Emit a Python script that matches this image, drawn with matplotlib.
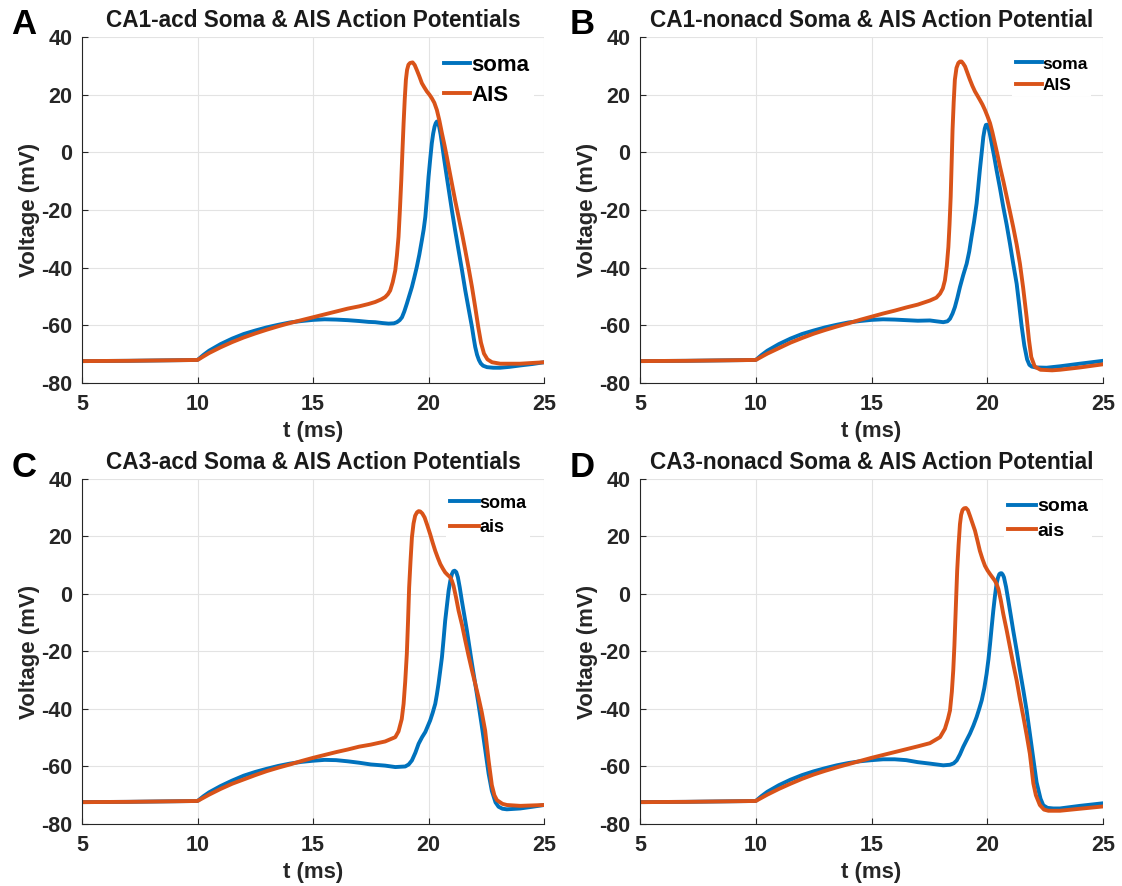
import matplotlib.pyplot as plt

plt.rcParams['font.family'] = ['Liberation Sans', 'DejaVu Sans']
plt.rcParams['font.weight'] = 'bold'
plt.rcParams['axes.unicode_minus'] = False

# panel titles, legend names
titles = ['CA1-acd Soma & AIS Action Potentials',
          'CA1-nonacd Soma & AIS Action Potential',
          'CA3-acd Soma & AIS Action Potentials',
          'CA3-nonacd Soma & AIS Action Potential']
letters = ['A', 'B', 'C', 'D']
names_soma = ['soma', 'soma', 'soma', 'soma']
names_ais = ['AIS', 'AIS', 'ais', 'ais']

# ---- A: CA1-acd ----
tA_soma = [5, 7, 9, 10, 10.25, 10.5, 11, 11.5, 12, 12.5, 13, 13.5, 14, 14.5, 15, 15.5, 16, 16.5,
           17, 17.4, 17.69, 18.0, 18.27, 18.5, 18.63, 18.75, 18.85, 18.95, 19.06, 19.17, 19.28,
           19.38, 19.49, 19.6, 19.71, 19.79, 19.86, 19.93, 20.0, 20.07, 20.14, 20.2, 20.26, 20.31,
           20.36, 20.41, 20.46, 20.52, 20.58, 20.68, 20.79, 20.9, 21.01, 21.15, 21.3, 21.45, 21.59,
           21.74, 21.88, 21.95, 22.02, 22.1, 22.18, 22.26, 22.36, 22.53, 22.8, 23.1, 23.5, 23.97,
           24.5, 25]
vA_soma = [-72.4, -72.3, -72.1, -72.0, -70.3, -68.8, -66.5, -64.6, -63.0, -61.8, -60.7, -59.8, -59.0,
           -58.5, -58.1, -57.9, -58.0, -58.2, -58.5, -58.8, -58.9, -59.2, -59.4, -59.3, -58.9, -58.2,
           -57.2, -55.2, -52.5, -49.6, -46.7, -43.5, -39.8, -35.5, -30.5, -26.7, -22.4, -15.8, -8.5,
           -2.5, 3.1, 6.5, 8.9, 10.1, 10.7, 10.2, 8.9, 6.3, 3.1, -2.6, -8.5, -14.3, -20.1, -27.0,
           -34.0, -41.0, -47.9, -54.5, -60.6, -64.2, -67.5, -70.2, -72.0, -73.2, -74.0, -74.5, -74.7,
           -74.7, -74.4, -73.9, -73.4, -72.8]
tA_ais = [5, 7, 9, 10, 10.25, 10.5, 11, 11.5, 12, 12.5, 13, 13.5, 14, 14.5, 15, 15.5, 16, 16.5, 17,
          17.4, 17.69, 17.95, 18.12, 18.24, 18.34, 18.45, 18.56, 18.63, 18.7, 18.76, 18.82, 18.87,
          18.92, 18.97, 19.02, 19.07, 19.13, 19.2, 19.31, 19.4, 19.49, 19.6, 19.71, 19.82, 19.93,
          20.04, 20.14, 20.25, 20.36, 20.47, 20.58, 20.69, 20.79, 20.9, 21.01, 21.15, 21.3, 21.45,
          21.59, 21.74, 21.88, 22.02, 22.15, 22.27, 22.4, 22.55, 22.75, 23.1, 23.97, 25]
vA_ais = [-72.4, -72.3, -72.1, -72.0, -70.8, -69.6, -67.6, -65.8, -64.2, -62.8, -61.5, -60.3, -59.2,
          -58.2, -57.2, -56.2, -55.2, -54.2, -53.4, -52.6, -51.9, -51.0, -50.2, -49.2, -47.9, -45.0,
          -40.9, -35.8, -29.3, -20.0, -9.6, 0.5, 10.1, 18.5, 25.2, 28.6, 30.4, 31.0, 31.2, 30.3,
          28.6, 26.4, 24.0, 22.5, 21.1, 20.0, 18.8, 17.2, 14.7, 11.0, 6.6, 2.5, -1.5, -6.2, -10.8,
          -16.6, -22.4, -28.2, -34.0, -40.4, -46.7, -53.7, -60.5, -66.0, -69.8, -71.8, -72.8, -73.3,
          -73.3, -72.8]

# ---- B: CA1-nonacd ----
tB_soma = [5, 7, 9, 10, 10.25, 10.5, 11, 11.5, 12, 12.5, 13, 13.5, 14, 14.5, 15, 15.5, 16, 16.5,
           17, 17.52, 17.8, 18.1, 18.28, 18.39, 18.5, 18.6, 18.71, 18.82, 18.96, 19.11, 19.22,
           19.32, 19.43, 19.54, 19.61, 19.68, 19.76, 19.83, 19.89, 19.94, 19.99, 20.04, 20.11,
           20.19, 20.3, 20.4, 20.55, 20.69, 20.84, 20.98, 21.12, 21.27, 21.38, 21.48, 21.6, 21.72,
           21.82, 21.92, 22.1, 22.56, 23.14, 24, 25]
vB_soma = [-72.4, -72.3, -72.1, -72.0, -70.3, -68.8, -66.5, -64.6, -63.0, -61.8, -60.7, -59.8, -59.0,
           -58.5, -58.1, -57.9, -58.0, -58.2, -58.4, -58.3, -58.6, -58.9, -58.6, -57.7, -55.9, -53.7,
           -50.4, -46.7, -42.6, -38.6, -34.4, -29.3, -24.0, -17.7, -12.0, -6.1, 0.0, 5.4, 8.2, 9.5,
           9.6, 8.9, 6.5, 3.1, -1.5, -6.1, -12.5, -18.9, -25.2, -31.7, -38.6, -45.6, -53.0, -60.0,
           -67.0, -71.8, -73.7, -74.3, -74.6, -74.7, -74.2, -73.3, -72.3]
tB_ais = [5, 7, 9, 10, 10.25, 10.5, 11, 11.5, 12, 12.5, 13, 13.5, 14, 14.5, 15, 15.5, 16, 16.5, 17,
          17.52, 17.8, 17.96, 18.08, 18.17, 18.25, 18.32, 18.37, 18.42, 18.46, 18.5, 18.55, 18.6,
          18.67, 18.75, 18.82, 18.89, 18.96, 19.04, 19.14, 19.25, 19.36, 19.47, 19.58, 19.68,
          19.79, 19.9, 20.01, 20.12, 20.22, 20.33, 20.44, 20.55, 20.7, 20.84, 20.98, 21.12, 21.27,
          21.41, 21.55, 21.7, 21.8, 21.9, 22.05, 22.3, 22.8, 23.14, 24, 25]
vB_ais = [-72.4, -72.3, -72.1, -72.0, -70.9, -69.8, -67.9, -66.0, -64.4, -62.9, -61.6, -60.4, -59.3,
          -58.1, -57.0, -55.9, -54.9, -53.8, -52.8, -51.4, -50.4, -49.0, -47.2, -44.4, -39.5, -32.8,
          -25.0, -15.4, -4.0, 7.8, 17.5, 25.2, 29.3, 31.0, 31.5, 31.5, 30.8, 29.8, 27.6, 25.2, 23.0,
          21.1, 19.6, 18.2, 16.6, 14.7, 12.5, 10.1, 7.0, 3.1, -0.8, -5.0, -10.2, -15.4, -20.6,
          -25.9, -32.0, -38.6, -47.0, -57.2, -65.0, -71.0, -74.3, -75.4, -75.6, -75.4, -74.6, -73.5]

# ---- C: CA3-acd ----
tC_soma = [5, 7, 9, 10, 10.25, 10.5, 11, 11.5, 12, 12.5, 13, 13.5, 14, 14.5, 15, 15.5, 16, 16.5,
           17, 17.5, 18.12, 18.56, 18.99, 19.14, 19.28, 19.43, 19.57, 19.72, 19.86, 20.07, 20.18,
           20.29, 20.36, 20.43, 20.5, 20.58, 20.65, 20.72, 20.8, 20.87, 20.94, 21.01, 21.07, 21.13,
           21.2, 21.27, 21.35, 21.44, 21.55, 21.66, 21.77, 21.88, 22.02, 22.16, 22.3, 22.45, 22.6,
           22.74, 22.9, 23.03, 23.2, 23.39, 23.97, 24.5, 25]
vC_soma = [-72.4, -72.3, -72.1, -72.0, -70.4, -69.0, -66.8, -64.9, -63.2, -61.9, -60.8, -59.8, -59.0,
           -58.4, -58.0, -57.7, -57.8, -58.2, -58.7, -59.3, -59.7, -60.2, -60.0, -59.3, -57.9, -55.2,
           -52.1, -49.8, -48.0, -44.0, -41.3, -38.2, -35.0, -31.3, -27.0, -22.0, -15.8, -9.3, -3.7,
           1.2, 4.5, 6.9, 7.9, 8.1, 7.6, 5.8, 2.3, -2.3, -7.5, -12.7, -18.5, -24.3, -31.2, -38.2,
           -45.6, -54.0, -62.5, -68.5, -72.5, -74.0, -74.7, -74.9, -74.6, -74.0, -73.4]
tC_ais = [5, 7, 9, 10, 10.25, 10.5, 11, 11.5, 12, 12.5, 13, 13.5, 14, 14.5, 15, 15.5, 16, 16.5, 17,
          17.5, 18.12, 18.56, 18.7, 18.84, 18.92, 18.99, 19.06, 19.11, 19.16, 19.22, 19.28, 19.35,
          19.42, 19.5, 19.57, 19.64, 19.73, 19.83, 19.95, 20.07, 20.18, 20.29, 20.4, 20.51, 20.62,
          20.72, 20.83, 20.94, 21.01, 21.08, 21.19, 21.3, 21.45, 21.59, 21.73, 21.88, 22.02, 22.16,
          22.3, 22.45, 22.6, 22.74, 22.85, 22.96, 23.2, 23.39, 23.97, 25]
vC_ais = [-72.4, -72.3, -72.1, -72.0, -70.9, -69.8, -67.8, -66.0, -64.5, -63.0, -61.6, -60.4, -59.3,
          -58.1, -57.0, -56.0, -55.0, -54.1, -53.1, -52.4, -51.3, -49.8, -47.8, -43.5, -38.2, -30.5,
          -20.8, -10.0, 2.3, 11.5, 19.7, 24.5, 27.2, 28.4, 28.8, 28.7, 28.0, 26.6, 23.8, 20.8, 17.8,
          15.0, 12.6, 10.4, 8.8, 7.5, 6.6, 5.8, 4.6, 2.9, -1.2, -5.8, -10.8, -16.2, -21.4, -26.6,
          -31.2, -35.9, -41.0, -47.5, -58.0, -66.5, -70.0, -71.7, -73.0, -73.4, -73.7, -73.4]

# ---- D: CA3-nonacd ----
tD_soma = [5, 7, 9, 10, 10.25, 10.5, 11, 11.5, 12, 12.5, 13, 13.5, 14, 14.5, 15, 15.5, 16, 16.5,
           17, 17.52, 18.1, 18.39, 18.55, 18.68, 18.82, 18.96, 19.11, 19.25, 19.4, 19.54, 19.65,
           19.76, 19.87, 19.97, 20.05, 20.12, 20.19, 20.26, 20.33, 20.4, 20.46, 20.52, 20.57,
           20.62, 20.67, 20.72, 20.81, 20.91, 21.01, 21.12, 21.27, 21.41, 21.56, 21.7, 21.84, 22.0,
           22.13, 22.3, 22.42, 22.6, 22.85, 23.14, 24, 25]
vD_soma = [-72.4, -72.3, -72.1, -72.0, -70.3, -68.8, -66.5, -64.6, -63.0, -61.7, -60.6, -59.6, -58.8,
           -58.2, -57.8, -57.5, -57.5, -57.8, -58.5, -59.0, -59.6, -59.4, -58.9, -57.9, -55.8, -53.2,
           -50.8, -48.6, -45.8, -42.8, -40.0, -37.0, -32.8, -27.8, -22.8, -17.4, -11.5, -5.8, -0.8,
           3.5, 5.6, 6.9, 7.2, 7.2, 6.7, 5.8, 2.5, -2.3, -7.2, -12.7, -19.7, -26.6, -33.6, -40.5,
           -48.6, -58.0, -65.5, -71.2, -73.5, -74.4, -74.6, -74.6, -73.7, -72.8]
tD_ais = [5, 7, 9, 10, 10.25, 10.5, 11, 11.5, 12, 12.5, 13, 13.5, 14, 14.5, 15, 15.5, 16, 16.5, 17,
          17.52, 17.96, 18.17, 18.3, 18.39, 18.47, 18.53, 18.58, 18.62, 18.66, 18.7, 18.76, 18.82,
          18.87, 18.93, 19.0, 19.08, 19.16, 19.25, 19.36, 19.47, 19.58, 19.68, 19.79, 19.9, 20.01,
          20.12, 20.22, 20.33, 20.41, 20.48, 20.58, 20.69, 20.84, 20.98, 21.12, 21.27, 21.41,
          21.56, 21.7, 21.84, 21.99, 22.1, 22.27, 22.45, 22.64, 23.14, 24, 25]
vD_ais = [-72.4, -72.3, -72.1, -72.0, -70.9, -69.8, -67.8, -66.0, -64.3, -62.8, -61.5, -60.3, -59.2,
          -58.1, -57.0, -56.0, -55.0, -54.0, -53.0, -51.9, -49.8, -46.9, -43.5, -40.5, -34.0, -26.6,
          -18.0, -9.3, -0.5, 8.1, 17.0, 24.3, 27.5, 29.2, 29.8, 29.9, 29.2, 27.2, 24.6, 22.0, 18.4,
          15.0, 12.2, 9.8, 8.2, 6.9, 5.8, 4.6, 3.3, 1.7, -2.0, -6.9, -12.7, -18.5, -24.3, -30.1,
          -36.5, -42.8, -49.0, -55.6, -65.9, -70.0, -73.4, -75.0, -75.4, -75.4, -74.7, -73.9]

soma_t = [tA_soma, tB_soma, tC_soma, tD_soma]
soma_v = [vA_soma, vB_soma, vC_soma, vD_soma]
ais_t = [tA_ais, tB_ais, tC_ais, tD_ais]
ais_v = [vA_ais, vB_ais, vC_ais, vD_ais]

blue = '#0072BD'
orange = '#D95319'

fig = plt.figure(figsize=(11.22, 8.86), dpi=100)
# axes boxes in figure fractions (left, bottom, width, height)
boxes = [(0.0731, 0.5677, 0.4118, 0.3905),
         (0.5704, 0.5677, 0.4127, 0.3905),
         (0.0731, 0.0700, 0.4118, 0.3894),
         (0.5704, 0.0700, 0.4127, 0.3894)]
leg_size = [16, 12.5, 13, 14]
leg_anchor = [(0.978, 0.962), (0.975, 0.954), (0.970, 0.965), (0.976, 0.957)]
leg_hlen = [1.2, 1.5, 1.6, 1.45]
leg_space = [0.42, 0.35, 0.4, 0.35]
letter_y = [0.972, 0.972, 0.472, 0.472]

for i in range(4):
    ax = fig.add_axes(boxes[i])
    ax.plot(soma_t[i], soma_v[i], color=blue, lw=2.8, label=names_soma[i],
            solid_joinstyle='round')
    ax.plot(ais_t[i], ais_v[i], color=orange, lw=2.8, label=names_ais[i],
            solid_joinstyle='round')
    ax.set_xlim(5, 25)
    ax.set_ylim(-80, 40)
    ax.set_xticks([5, 10, 15, 20, 25])
    ax.set_yticks([-80, -60, -40, -20, 0, 20, 40])
    ax.grid(True, color='#e3e3e3', lw=0.8)
    ax.set_axisbelow(True)
    for s in ['top', 'right']:
        ax.spines[s].set_visible(False)
    for s in ['left', 'bottom']:
        ax.spines[s].set_color('#262626')
        ax.spines[s].set_linewidth(0.8)
    ax.tick_params(direction='in', length=4, width=0.8, color='#262626',
                   labelsize=15.5, labelcolor='#262626')
    ax.tick_params(axis='x', pad=8)
    ax.tick_params(axis='y', pad=7)
    for lab in ax.get_xticklabels() + ax.get_yticklabels():
        lab.set_fontweight('bold')
    ax.set_xlabel('t (ms)', fontsize=16, fontweight='bold', color='#262626', labelpad=4)
    ax.set_ylabel('Voltage (mV)', fontsize=16, fontweight='bold', color='#262626', labelpad=1)
    ax.set_title(titles[i], fontsize=16.3, fontweight='bold', color='#1a1a1a', pad=7)
    ax.legend(loc='upper right', bbox_to_anchor=leg_anchor[i], frameon=True, fancybox=False,
              edgecolor='none', facecolor='white', framealpha=1, handlelength=leg_hlen[i],
              handletextpad=0.05, borderaxespad=0, borderpad=0.2, labelspacing=leg_space[i],
              prop={'size': leg_size[i], 'weight': 'bold'})
    # panel letter
    fig.text(boxes[i][0] - 0.063, letter_y[i], letters[i], fontsize=25, fontweight='bold',
             color='black', va='center', ha='left')

fig.savefig('out.png', dpi=100)
